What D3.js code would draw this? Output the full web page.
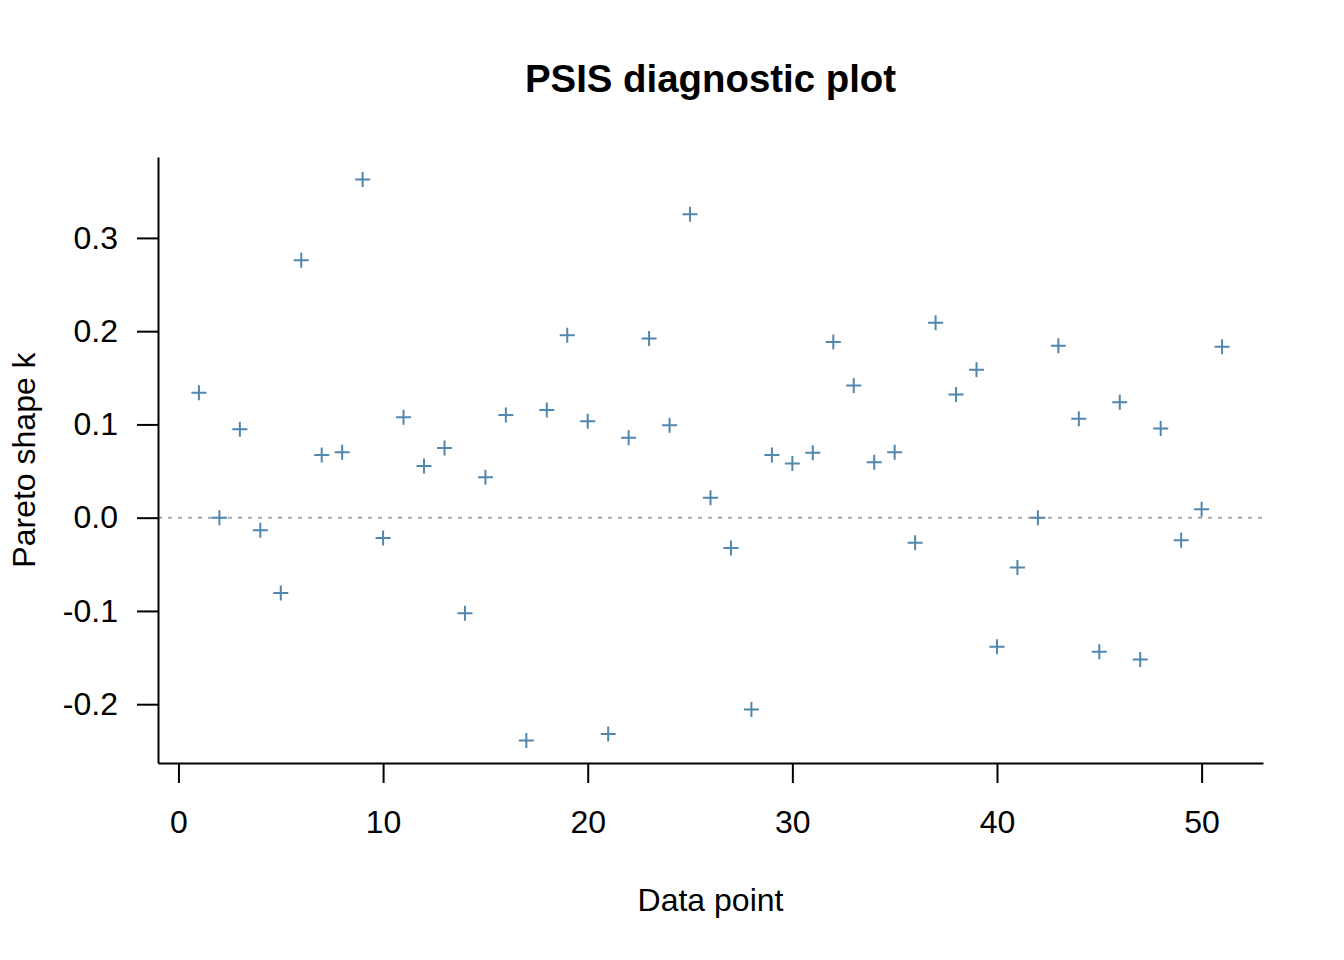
<!DOCTYPE html>
<html>
<head>
<meta charset="utf-8">
<script src="https://cdn.jsdelivr.net/npm/d3@7/dist/d3.min.js"></script>
<style>
  html, body { margin: 0; padding: 0; background: #ffffff; }
  svg { display: block; font-family: "Liberation Sans", Arial, Helvetica, sans-serif; }
</style>
</head>
<body>
<svg id="chart" width="1344" height="960"></svg>
<script>
// ---- data ----
const dataPoints = d3.range(1, 52);
const paretoK = [
  0.134, 0.000, 0.0947, -0.0135, -0.0807, 0.276, 0.0672, 0.0701, 0.3627, -0.0217,
  0.1078, 0.0553, 0.0746, -0.1025, 0.0434, 0.1102, -0.239, 0.1156, 0.1955, 0.1033,
  -0.232, 0.0857, 0.1922, 0.0992, 0.3254, 0.0213, -0.0324, -0.2057, 0.0672, 0.0582,
  0.0697, 0.1885, 0.1418, 0.0594, 0.0701, -0.027, 0.209, 0.132, 0.1586, -0.1385,
  -0.0533, 0.000, 0.1844, 0.1061, -0.1439, 0.1238, -0.152, 0.0955, -0.0242, 0.009,
  0.1832
];
const xTicks = [0, 10, 20, 30, 40, 50];
const yTicks = [-0.2, -0.1, 0.0, 0.1, 0.2, 0.3];
const titleText = "PSIS diagnostic plot";
const xLabel = "Data point";
const yLabel = "Pareto shape k";

// ---- layout ----
const plot = { left: 158, right: 1263, top: 157, bottom: 763 };
const svg = d3.select("#chart");

function padExtent(arr) {
  const [a, b] = d3.extent(arr);
  const p = (b - a) * 0.04;
  return [a - p, b + p];
}

const x = d3.scaleLinear().domain(padExtent(dataPoints)).range([plot.left, plot.right]);
const y = d3.scaleLinear().domain(padExtent(paretoK)).range([plot.bottom, plot.top]);

// reference line at 0
svg.append("line")
  .attr("x1", plot.left).attr("x2", plot.right)
  .attr("y1", y(0)).attr("y2", y(0))
  .attr("stroke", "#aaaaaa").attr("stroke-width", 2)
  .attr("stroke-dasharray", "4,6");

// axes
const fontSize = 32;
const xAxis = d3.axisBottom(x).tickValues(xTicks).tickSizeInner(20).tickSizeOuter(0)
  .tickPadding(27).tickFormat(d => String(d));
const yAxis = d3.axisLeft(y).tickValues(yTicks).tickSizeInner(21).tickSizeOuter(0)
  .tickPadding(19).tickFormat(d => d.toFixed(1));

const gx = svg.append("g").attr("transform", `translate(0,${plot.bottom})`).call(xAxis);
const gy = svg.append("g").attr("transform", `translate(${plot.left},0)`).call(yAxis);
[gx, gy].forEach(g => {
  g.selectAll("path.domain").attr("stroke", "#000").attr("stroke-width", 2);
  g.selectAll(".tick line").attr("stroke", "#000").attr("stroke-width", 2);
  g.selectAll(".tick text").attr("fill", "#000")
    .style("font-size", fontSize + "px")
    .style("font-family", '"Liberation Sans", Arial, Helvetica, sans-serif');
});

// points (pch = 3)
svg.append("g").selectAll("path.pt")
  .data(dataPoints.map((d, i) => ({ x: d, k: paretoK[i] })))
  .join("path")
  .attr("class", "pt")
  .attr("transform", d => `translate(${x(d.x)},${y(d.k)})`)
  .attr("d", "M-7.5,0H7.5M0,-7.5V7.5")
  .attr("stroke", "#4f87ae")
  .attr("stroke-width", 2)
  .attr("fill", "none");

// title
svg.append("text")
  .attr("x", (plot.left + plot.right) / 2).attr("y", 92)
  .attr("text-anchor", "middle")
  .style("font-size", "38.4px").style("font-weight", "bold")
  .text(titleText);

// x label
svg.append("text")
  .attr("x", (plot.left + plot.right) / 2).attr("y", 911)
  .attr("text-anchor", "middle")
  .style("font-size", fontSize + "px")
  .text(xLabel);

// y label
svg.append("text")
  .attr("transform", `translate(35,${(plot.top + plot.bottom) / 2}) rotate(-90)`)
  .attr("text-anchor", "middle")
  .style("font-size", fontSize + "px")
  .text(yLabel);
</script>
</body>
</html>
